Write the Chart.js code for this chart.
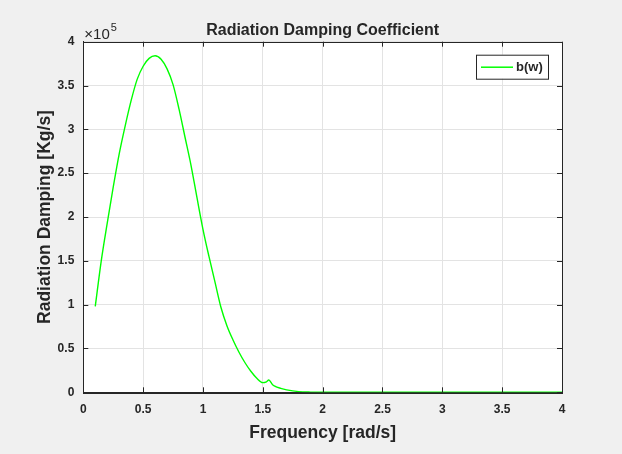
<!DOCTYPE html>
<html>
<head>
<meta charset="utf-8">
<script src="https://cdn.jsdelivr.net/npm/chart.js@4.4.0/dist/chart.umd.min.js"></script>
<style>
  html, body { margin: 0; padding: 0; background: #f0f0f0; }
  #chart-damping { display: block; background: #f0f0f0; }
</style>
</head>
<body>
<canvas id="chart-damping" width="622" height="454"></canvas>
<script>
// frequency samples [rad/s]
var frequency = [
  0.10, 0.15, 0.20, 0.25, 0.30, 0.35, 0.40, 0.45, 0.50, 0.55,
  0.60, 0.65, 0.70, 0.75, 0.80, 0.85, 0.90, 0.95, 1.00, 1.05,
  1.10, 1.15, 1.20, 1.25, 1.30, 1.35, 1.40, 1.45, 1.50, 1.53,
  1.55, 1.58, 1.60, 1.65, 1.70, 1.80, 1.90, 2.00, 2.50, 3.00,
  3.50, 4.00
];
// radiation damping b(w), in units of 1e5 Kg/s
var damping = [
  0.98, 1.50, 1.93, 2.34, 2.72, 3.04, 3.33, 3.57, 3.72, 3.81,
  3.84, 3.80, 3.69, 3.51, 3.23, 2.91, 2.59, 2.22, 1.86, 1.55,
  1.26, 0.97, 0.76, 0.60, 0.46, 0.34, 0.24, 0.16, 0.11, 0.12,
  0.14, 0.09, 0.07, 0.045, 0.028, 0.008, 0.002, 0.0005, 0, 0,
  0, 0
];
var xTicks = [0, 0.5, 1, 1.5, 2, 2.5, 3, 3.5, 4];
var yTicks = [0, 0.5, 1, 1.5, 2, 2.5, 3, 3.5, 4];
var seriesLabel = 'b(w)';
var chartTitle = 'Radiation Damping Coefficient';

var axisColor = '#262626';
var gridColor = '#e3e3e3';
var fontFamily = "'Liberation Sans', Arial, Helvetica, sans-serif";

var points = frequency.map((f, i) => ({ x: f, y: damping[i] }));

// white plot box, MATLAB style frame with inward ticks, title, exponent and legend
var matlabAxes = {
  id: 'matlabAxes',
  beforeDraw(chart) {
    var a = chart.chartArea, ctx = chart.ctx;
    ctx.save();
    ctx.fillStyle = '#ffffff';
    ctx.fillRect(a.left, a.top, a.right - a.left, a.bottom - a.top);
    ctx.restore();
  },
  afterDatasetsDraw(chart) {
    var a = chart.chartArea, ctx = chart.ctx;
    var xs = chart.scales.x, ys = chart.scales.y;
    ctx.save();
    ctx.strokeStyle = axisColor;
    ctx.lineWidth = 1;
    ctx.beginPath();
    xs.ticks.forEach((t, i) => {
      var px = Math.round(xs.getPixelForTick(i)) + 0.5;
      ctx.moveTo(px, a.bottom); ctx.lineTo(px, a.bottom - 5);
      ctx.moveTo(px, a.top); ctx.lineTo(px, a.top + 5);
    });
    ys.ticks.forEach((t, i) => {
      var py = Math.round(ys.getPixelForTick(i)) + 0.5;
      ctx.moveTo(a.left, py); ctx.lineTo(a.left + 5, py);
      ctx.moveTo(a.right, py); ctx.lineTo(a.right - 5, py);
    });
    ctx.stroke();
    ctx.strokeRect(Math.round(a.left) + 0.5, Math.round(a.top) + 0.5,
      Math.round(a.right - a.left), Math.round(a.bottom - a.top));

    // title, centred over the axes
    ctx.fillStyle = axisColor;
    ctx.textBaseline = 'middle';
    ctx.textAlign = 'center';
    ctx.font = 'bold 16px ' + fontFamily;
    ctx.fillText(chartTitle, (a.left + a.right) / 2, a.top - 11);

    // exponent label
    ctx.textAlign = 'left';
    ctx.font = '15px ' + fontFamily;
    ctx.fillText('\u00d710', a.left + 1, a.top - 7);
    var w = ctx.measureText('\u00d710').width;
    ctx.font = '11px ' + fontFamily;
    ctx.fillText('5', a.left + 1 + w + 1, a.top - 14);

    // legend
    var bx = a.right - 86, by = a.top + 13, bw = 72, bh = 24;
    ctx.fillStyle = '#ffffff';
    ctx.fillRect(bx, by, bw, bh);
    ctx.strokeStyle = axisColor;
    ctx.lineWidth = 1;
    ctx.strokeRect(bx + 0.5, by + 0.5, bw, bh);
    ctx.strokeStyle = '#00ff00';
    ctx.lineWidth = 1.5;
    ctx.beginPath();
    ctx.moveTo(bx + 5, by + 12.5);
    ctx.lineTo(bx + 37, by + 12.5);
    ctx.stroke();
    ctx.fillStyle = axisColor;
    ctx.font = 'bold 13px ' + fontFamily;
    ctx.fillText(chart.data.datasets[0].label, bx + 40, by + 13);
    ctx.restore();
  }
};

var chartDamping = new Chart(
  document.getElementById('chart-damping').getContext('2d'),
  { type: 'line',
    data: {
      datasets: [{
        label: seriesLabel,
        data: points,
        borderColor: '#00ff00',
        borderWidth: 1.4,
        pointRadius: 0,
        fill: false,
        cubicInterpolationMode: 'monotone'
      }]
    },
    options: {
      responsive: false,
      animation: false,
      layout: { padding: { left: 0, right: 60, top: 41.7, bottom: 0 } },
      plugins: {
        legend: { display: false },
        tooltip: { enabled: false },
        title: { display: false }
      },
      scales: {
        x: {
          type: 'linear',
          min: 0,
          max: 4,
          afterFit: (scale) => { scale.height = 61.7; },
          afterBuildTicks: (scale) => { scale.ticks = xTicks.map(v => ({ value: v })); },
          grid: { color: gridColor, drawTicks: false },
          border: { color: axisColor },
          ticks: {
            color: axisColor,
            padding: 10,
            maxRotation: 0,
            font: { family: fontFamily, size: 12, weight: 'bold' },
            callback: (v) => String(v)
          },
          title: {
            display: true,
            text: 'Frequency [rad/s]',
            color: axisColor,
            font: { family: fontFamily, size: 17.5, weight: 'bold' },
            padding: { top: 0, bottom: 10 }
          }
        },
        y: {
          min: 0,
          max: 4,
          afterFit: (scale) => { scale.width = 83.3; },
          afterBuildTicks: (scale) => { scale.ticks = yTicks.map(v => ({ value: v })); },
          grid: { color: gridColor, drawTicks: false },
          border: { color: axisColor },
          ticks: {
            color: axisColor,
            padding: 9,
            font: { family: fontFamily, size: 12, weight: 'bold' },
            callback: (v) => String(v)
          },
          title: {
            display: true,
            text: 'Radiation Damping [Kg/s]',
            color: axisColor,
            font: { family: fontFamily, size: 17.5, weight: 'bold' },
            padding: { top: 35, bottom: 0 }
          }
        }
      }
    },
    plugins: [matlabAxes]
  }
); /* <-- End 'chartDamping' */
</script>
</body>
</html>
